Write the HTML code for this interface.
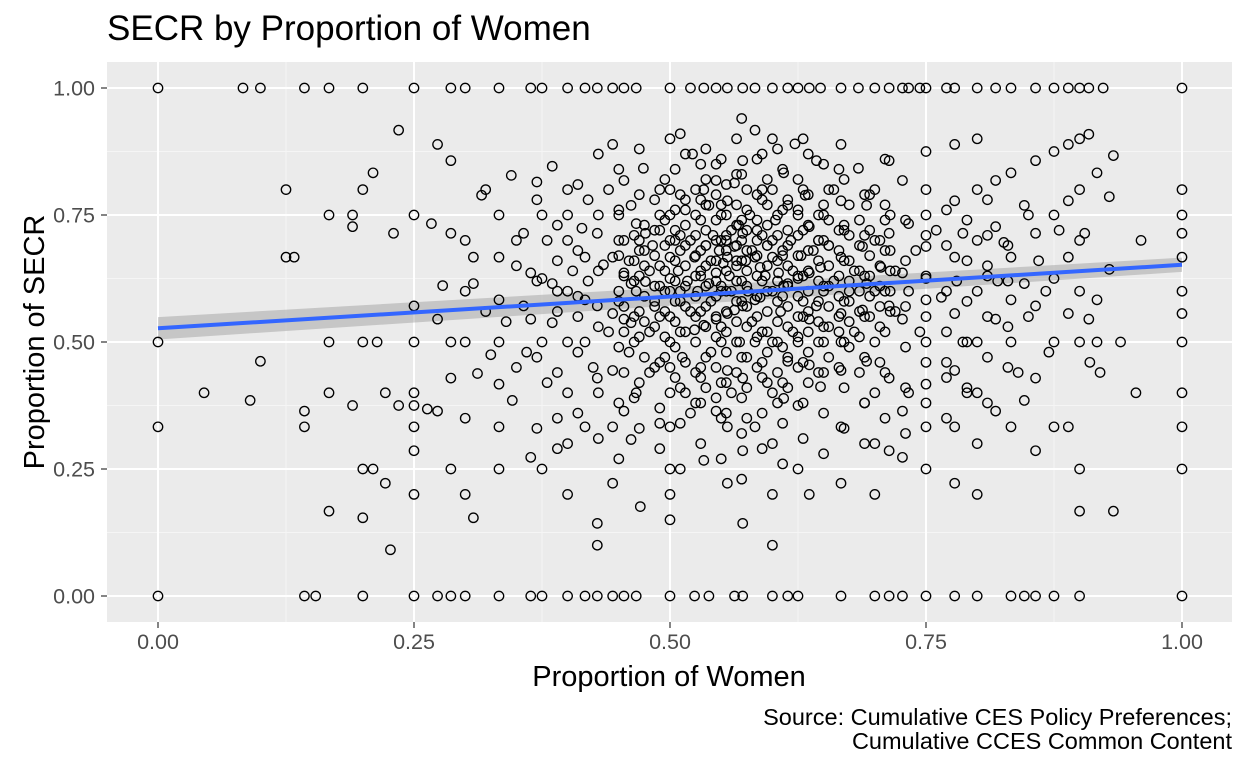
<!DOCTYPE html>
<html><head><meta charset="utf-8">
<style>
html,body{margin:0;padding:0;background:#fff;}
svg{display:block;font-family:"Liberation Sans",Arial,sans-serif;}
</style></head>
<body>
<svg id="chart" width="1248" height="768" xmlns="http://www.w3.org/2000/svg">
<text x="107" y="40" font-size="35" fill="#000">SECR by Proportion of Women</text>
<rect x="107" y="62" width="1125" height="560" fill="#ebebeb"/>
<g id="grid"></g>
<g id="ribbon"></g>
<g id="pts"></g>
<g id="fit"></g>
<g id="axes"></g>
<text x="669" y="686" font-size="29" text-anchor="middle" fill="#000">Proportion of Women</text>
<text transform="translate(44,342) rotate(-90)" font-size="29" text-anchor="middle" fill="#000">Proportion of SECR</text>
<text x="1232" y="725" font-size="23.5" text-anchor="end" fill="#000">Source: Cumulative CES Policy Preferences;</text>
<text x="1232" y="749" font-size="23.5" text-anchor="end" fill="#000">Cumulative CCES Common Content</text>
</svg>
<script>
const xTicks = [0, 0.25, 0.5, 0.75, 1];
const xTickLabels = ["0.00","0.25","0.50","0.75","1.00"];
const yTicks = [0, 0.25, 0.5, 0.75, 1];
const yTickLabels = ["0.00","0.25","0.50","0.75","1.00"];
const fitX = [0, 1];
const fitY = [0.527, 0.652];
const fitLo = [0.505, 0.638];
const fitHi = [0.549, 0.666];
const topRowX = [0,0.083,0.1,0.143,0.167,0.2,0.25,0.286,0.3,0.333,0.364,0.375,0.4,0.417,0.429,0.444,0.455,0.467,0.5,0.52,0.533,0.545,0.556,0.571,0.583,0.6,0.615,0.625,0.636,0.647,0.667,0.684,0.7,0.714,0.727,0.733,0.744,0.75,0.77,0.778,0.8,0.818,0.833,0.857,0.875,0.889,0.9,0.909,0.923,1];
const bottomRowX = [0,0.143,0.154,0.2,0.25,0.273,0.286,0.3,0.333,0.364,0.375,0.4,0.417,0.429,0.444,0.455,0.467,0.5,0.524,0.538,0.563,0.571,0.6,0.615,0.625,0.667,0.7,0.714,0.727,0.75,0.778,0.8,0.833,0.846,0.857,0.875,0.9,1];
const leftColY = [0.5,0.333];
const rightColY = [0.8,0.75,0.714,0.667,0.6,0.556,0.5,0.4,0.333,0.25];
const interiorPts = "0.045,0.4;0.09,0.385;0.1,0.462;0.125,0.8;0.125,0.667;0.133,0.667;0.143,0.364;0.143,0.333;0.167,0.75;0.167,0.5;0.167,0.4;0.167,0.167;0.19,0.375;0.19,0.75;0.19,0.727;0.2,0.8;0.2,0.5;0.2,0.25;0.2,0.154;0.21,0.833;0.21,0.25;0.214,0.5;0.222,0.4;0.222,0.222;0.227,0.091;0.23,0.714;0.235,0.917;0.235,0.375;0.25,0.571;0.25,0.5;0.25,0.4;0.25,0.375;0.25,0.333;0.25,0.286;0.25,0.2;0.25,0.75;0.263,0.368;0.267,0.733;0.273,0.889;0.273,0.364;0.273,0.545;0.278,0.611;0.286,0.857;0.286,0.5;0.286,0.429;0.286,0.25;0.286,0.714;0.3,0.5;0.3,0.7;0.3,0.6;0.3,0.2;0.3,0.35;0.308,0.615;0.308,0.154;0.308,0.667;0.312,0.438;0.316,0.789;0.32,0.8;0.32,0.56;0.325,0.475;0.333,0.667;0.333,0.583;0.333,0.5;0.333,0.417;0.333,0.333;0.333,0.25;0.333,0.75;0.34,0.54;0.345,0.828;0.346,0.385;0.35,0.7;0.35,0.65;0.35,0.45;0.357,0.714;0.357,0.571;0.36,0.48;0.364,0.636;0.364,0.545;0.364,0.273;0.37,0.815;0.375,0.75;0.375,0.625;0.375,0.5;0.375,0.25;0.38,0.7;0.38,0.42;0.385,0.846;0.385,0.615;0.385,0.538;0.39,0.6;0.39,0.35;0.4,0.8;0.4,0.7;0.4,0.6;0.4,0.5;0.4,0.4;0.4,0.3;0.4,0.2;0.4,0.75;0.405,0.64;0.41,0.55;0.414,0.724;0.417,0.667;0.417,0.583;0.417,0.5;0.417,0.333;0.42,0.62;0.42,0.78;0.425,0.45;0.429,0.714;0.429,0.571;0.429,0.429;0.429,0.143;0.429,0.1;0.435,0.652;0.44,0.8;0.44,0.52;0.444,0.889;0.444,0.667;0.444,0.556;0.444,0.444;0.444,0.333;0.444,0.222;0.45,0.75;0.45,0.6;0.45,0.7;0.455,0.818;0.455,0.636;0.455,0.545;0.455,0.364;0.46,0.66;0.46,0.48;0.462,0.769;0.462,0.615;0.462,0.538;0.462,0.308;0.467,0.733;0.467,0.6;0.467,0.4;0.47,0.68;0.47,0.56;0.471,0.176;0.474,0.842;0.476,0.714;0.476,0.619;0.48,0.52;0.48,0.64;0.48,0.44;0.483,0.69;0.485,0.58;0.49,0.75;0.49,0.61;0.49,0.34;0.5,0.9;0.5,0.8;0.5,0.75;0.5,0.7;0.5,0.667;0.5,0.625;0.5,0.6;0.5,0.55;0.5,0.5;0.5,0.45;0.5,0.4;0.5,0.333;0.5,0.25;0.5,0.2;0.5,0.15;0.505,0.72;0.508,0.64;0.51,0.58;0.51,0.68;0.512,0.47;0.515,0.76;0.517,0.62;0.52,0.56;0.52,0.7;0.52,0.36;0.522,0.87;0.524,0.667;0.524,0.524;0.527,0.6;0.53,0.74;0.53,0.64;0.53,0.43;0.533,0.8;0.533,0.533;0.533,0.267;0.535,0.69;0.538,0.615;0.538,0.769;0.54,0.58;0.54,0.66;0.54,0.48;0.542,0.71;0.545,0.636;0.545,0.545;0.545,0.818;0.545,0.364;0.548,0.68;0.55,0.6;0.55,0.75;0.55,0.5;0.552,0.655;0.555,0.7;0.556,0.778;0.556,0.667;0.556,0.556;0.556,0.444;0.556,0.333;0.556,0.222;0.558,0.63;0.56,0.72;0.56,0.6;0.56,0.4;0.563,0.813;0.563,0.688;0.563,0.563;0.565,0.65;0.567,0.73;0.568,0.5;0.57,0.62;0.57,0.7;0.571,0.857;0.571,0.714;0.571,0.571;0.571,0.429;0.571,0.286;0.571,0.143;0.574,0.66;0.576,0.6;0.578,0.75;0.58,0.54;0.58,0.68;0.583,0.917;0.583,0.667;0.583,0.583;0.583,0.5;0.583,0.333;0.585,0.72;0.588,0.647;0.588,0.588;0.59,0.46;0.59,0.78;0.593,0.63;0.595,0.69;0.6,0.9;0.6,0.8;0.6,0.7;0.6,0.667;0.6,0.6;0.6,0.5;0.6,0.4;0.6,0.3;0.6,0.2;0.6,0.1;0.603,0.74;0.606,0.636;0.608,0.56;0.61,0.68;0.611,0.833;0.611,0.611;0.611,0.389;0.615,0.769;0.615,0.615;0.615,0.462;0.618,0.7;0.62,0.64;0.62,0.52;0.622,0.89;0.625,0.75;0.625,0.625;0.625,0.5;0.625,0.375;0.625,0.25;0.628,0.67;0.63,0.58;0.632,0.789;0.636,0.727;0.636,0.636;0.636,0.545;0.636,0.455;0.636,0.2;0.64,0.68;0.643,0.857;0.643,0.571;0.645,0.7;0.647,0.647;0.647,0.412;0.65,0.75;0.65,0.6;0.65,0.5;0.655,0.69;0.66,0.62;0.66,0.8;0.667,0.889;0.667,0.778;0.667,0.667;0.667,0.556;0.667,0.5;0.667,0.444;0.667,0.333;0.667,0.222;0.67,0.72;0.675,0.6;0.68,0.64;0.68,0.52;0.684,0.842;0.688,0.688;0.688,0.563;0.69,0.38;0.692,0.769;0.692,0.615;0.692,0.462;0.7,0.8;0.7,0.7;0.7,0.6;0.7,0.5;0.7,0.4;0.7,0.3;0.7,0.2;0.706,0.647;0.71,0.74;0.714,0.857;0.714,0.714;0.714,0.571;0.714,0.429;0.714,0.286;0.72,0.64;0.72,0.56;0.727,0.818;0.727,0.636;0.727,0.545;0.727,0.364;0.727,0.273;0.733,0.733;0.733,0.6;0.733,0.4;0.74,0.68;0.744,0.52;0.75,0.875;0.75,0.75;0.75,0.688;0.75,0.625;0.75,0.583;0.75,0.5;0.75,0.417;0.75,0.333;0.75,0.25;0.76,0.72;0.765,0.588;0.77,0.46;0.778,0.889;0.778,0.778;0.778,0.667;0.778,0.556;0.778,0.444;0.778,0.333;0.778,0.222;0.78,0.62;0.786,0.714;0.786,0.5;0.79,0.4;0.8,0.9;0.8,0.8;0.8,0.7;0.8,0.6;0.8,0.5;0.8,0.4;0.8,0.3;0.8,0.2;0.81,0.65;0.818,0.818;0.818,0.727;0.818,0.545;0.818,0.364;0.82,0.62;0.826,0.696;0.833,0.833;0.833,0.667;0.833,0.583;0.833,0.5;0.833,0.333;0.84,0.44;0.846,0.769;0.846,0.615;0.846,0.385;0.85,0.75;0.85,0.55;0.857,0.857;0.857,0.714;0.857,0.571;0.857,0.429;0.857,0.286;0.86,0.66;0.867,0.6;0.87,0.48;0.875,0.875;0.875,0.75;0.875,0.625;0.875,0.5;0.875,0.333;0.88,0.72;0.889,0.889;0.889,0.778;0.889,0.667;0.889,0.556;0.889,0.333;0.9,0.9;0.9,0.8;0.9,0.7;0.9,0.6;0.9,0.5;0.9,0.25;0.9,0.167;0.905,0.714;0.909,0.909;0.909,0.545;0.91,0.46;0.917,0.583;0.917,0.5;0.917,0.833;0.92,0.44;0.929,0.786;0.929,0.643;0.933,0.867;0.933,0.167;0.94,0.5;0.955,0.4;0.96,0.7";
// dense core: x value per column, then hand-read SECR values in that column
const coreColX = [0.455,0.465,0.475,0.485,0.495,0.505,0.515,0.525,0.535,0.545,0.555,0.565,0.575,0.585,0.595,0.605,0.615,0.625,0.635,0.645,0.655,0.665,0.675,0.685,0.695,0.705,0.715];
const coreColY = [
 "0.57,0.63,0.70,0.52,0.44",
 "0.55,0.62,0.71,0.66,0.50,0.39",
 "0.59,0.65,0.73,0.54,0.47,0.68",
 "0.53,0.61,0.67,0.72,0.78,0.45,0.57",
 "0.56,0.60,0.64,0.69,0.74,0.51,0.47,0.82",
 "0.54,0.58,0.62,0.66,0.70,0.76,0.49,0.43,0.84",
 "0.52,0.57,0.61,0.65,0.69,0.73,0.78,0.46,0.40,0.87",
 "0.55,0.59,0.63,0.67,0.71,0.75,0.80,0.50,0.44,0.38",
 "0.53,0.57,0.61,0.65,0.69,0.72,0.77,0.82,0.47,0.41,0.88",
 "0.55,0.59,0.62,0.66,0.70,0.74,0.79,0.51,0.45,0.39,0.85",
 "0.52,0.56,0.60,0.64,0.68,0.71,0.75,0.81,0.48,0.42,0.36",
 "0.54,0.58,0.62,0.66,0.69,0.73,0.77,0.83,0.50,0.44,0.90",
 "0.53,0.57,0.61,0.64,0.68,0.72,0.76,0.80,0.47,0.41,0.35",
 "0.55,0.59,0.63,0.67,0.70,0.74,0.79,0.51,0.45,0.86",
 "0.52,0.56,0.60,0.65,0.69,0.73,0.77,0.82,0.48,0.42",
 "0.54,0.58,0.62,0.66,0.71,0.75,0.50,0.44,0.38,0.88",
 "0.53,0.57,0.61,0.65,0.69,0.72,0.78,0.47,0.41",
 "0.55,0.59,0.63,0.67,0.71,0.76,0.82,0.51,0.45",
 "0.52,0.56,0.60,0.64,0.68,0.73,0.79,0.48,0.42,0.87",
 "0.54,0.58,0.62,0.66,0.70,0.75,0.50,0.44",
 "0.53,0.57,0.61,0.65,0.69,0.74,0.80,0.47",
 "0.55,0.59,0.63,0.68,0.72,0.52,0.45,0.84",
 "0.54,0.58,0.62,0.66,0.71,0.77,0.49",
 "0.56,0.60,0.64,0.69,0.74,0.51,0.44",
 "0.55,0.59,0.63,0.67,0.72,0.79",
 "0.57,0.61,0.65,0.70,0.53,0.46",
 "0.56,0.60,0.64,0.68,0.75"
];
// mid ring: wider spread around the core
const ringColX = [0.37,0.39,0.41,0.43,0.45,0.47,0.49,0.51,0.53,0.55,0.57,0.59,0.61,0.63,0.65,0.67,0.69,0.71,0.73,0.75,0.77,0.79,0.81,0.83];
const ringColY = [
 "0.33,0.47,0.62,0.78",
 "0.29,0.44,0.56,0.66,0.73",
 "0.36,0.48,0.59,0.68,0.81",
 "0.31,0.40,0.53,0.64,0.75,0.87",
 "0.27,0.38,0.49,0.58,0.67,0.76,0.84",
 "0.33,0.42,0.51,0.63,0.70,0.79,0.88",
 "0.29,0.37,0.46,0.55,0.65,0.72,0.80",
 "0.25,0.34,0.41,0.52,0.60,0.71,0.79,0.91",
 "0.30,0.38,0.45,0.56,0.63,0.68,0.78,0.85",
 "0.27,0.35,0.42,0.53,0.61,0.70,0.77,0.86",
 "0.23,0.32,0.39,0.47,0.58,0.66,0.74,0.83,0.94",
 "0.29,0.36,0.43,0.52,0.62,0.71,0.80,0.87",
 "0.26,0.34,0.42,0.49,0.59,0.67,0.76,0.84",
 "0.31,0.38,0.46,0.55,0.63,0.72,0.80,0.90",
 "0.28,0.36,0.44,0.53,0.61,0.70,0.77,0.85",
 "0.33,0.41,0.50,0.58,0.66,0.73,0.82",
 "0.30,0.38,0.47,0.55,0.63,0.71,0.79",
 "0.35,0.44,0.52,0.60,0.68,0.77,0.86",
 "0.32,0.41,0.49,0.57,0.66,0.74",
 "0.38,0.46,0.55,0.63,0.71,0.80",
 "0.35,0.43,0.52,0.60,0.69,0.76",
 "0.41,0.50,0.58,0.66,0.74",
 "0.38,0.47,0.55,0.63,0.71,0.78",
 "0.45,0.53,0.62,0.69"
];
const pts = interiorPts.split(";").map(s => s.split(",").map(Number));
const xVals = [], yVals = [];
topRowX.forEach(x => { xVals.push(x); yVals.push(1); });
bottomRowX.forEach(x => { xVals.push(x); yVals.push(0); });
leftColY.forEach(y => { xVals.push(0); yVals.push(y); });
rightColY.forEach(y => { xVals.push(1); yVals.push(y); });
pts.forEach(p => { xVals.push(p[0]); yVals.push(p[1]); });
coreColX.forEach((x, i) => { coreColY[i].split(",").map(Number).forEach(y => { xVals.push(x); yVals.push(y); }); });
ringColX.forEach((x, i) => { ringColY[i].split(",").map(Number).forEach(y => { xVals.push(x); yVals.push(y); }); });

const NS = "http://www.w3.org/2000/svg";
const sx = v => 158 + v * 1024;
const sy = v => 596 - v * 508;
function mk(tag, attrs, parent) {
  const e = document.createElementNS(NS, tag);
  for (const k in attrs) e.setAttribute(k, attrs[k]);
  parent.appendChild(e);
  return e;
}
const grid = document.getElementById("grid");
[0.125, 0.375, 0.625, 0.875].forEach(v => {
  const l = mk("line", {x1: sx(v), x2: sx(v), y1: 62, y2: 622, stroke: "#f5f5f5", "stroke-width": 1}, grid);
  
  
});
[0.125, 0.375, 0.625, 0.875].forEach(v => {
  const l = mk("line", {x1: 107, x2: 1232, y1: sy(v), y2: sy(v), stroke: "#f5f5f5", "stroke-width": 1}, grid);
  
  
});
const axes = document.getElementById("axes");
xTicks.forEach((v, i) => {
  const l = mk("line", {x1: sx(v), x2: sx(v), y1: 62, y2: 622, stroke: "#fff", "stroke-width": 2}, grid);
  
  
  const t = mk("line", {x1: sx(v), x2: sx(v), y1: 622, y2: 628, stroke: "#333", "stroke-width": 1.2}, axes);
  
  
  const tx = mk("text", {x: sx(v), y: 649, "font-size": 21.5, "text-anchor": "middle", fill: "#4d4d4d"}, axes);
  tx.textContent = xTickLabels[i];
  
  
});
yTicks.forEach((v, i) => {
  const l = mk("line", {x1: 107, x2: 1232, y1: sy(v), y2: sy(v), stroke: "#fff", "stroke-width": 2}, grid);
  
  
  const t = mk("line", {x1: 101, x2: 107, y1: sy(v), y2: sy(v), stroke: "#333", "stroke-width": 1.2}, axes);
  
  
  const tx = mk("text", {x: 95, y: sy(v) + 7.5, "font-size": 21.5, "text-anchor": "end", fill: "#4d4d4d"}, axes);
  tx.textContent = yTickLabels[i];
  
  
});
const ptsG = document.getElementById("pts");
xVals.forEach((x, i) => {
  const c = mk("circle", {cx: sx(x), cy: sy(yVals[i]), r: 4.7, fill: "none", stroke: "#000", "stroke-width": 1.35}, ptsG);
  
  
});
const rib = mk("polygon", {points: `${sx(fitX[0])},${sy(fitHi[0])} ${sx(fitX[1])},${sy(fitHi[1])} ${sx(fitX[1])},${sy(fitLo[1])} ${sx(fitX[0])},${sy(fitLo[0])}`, fill: "#999", "fill-opacity": 0.45}, document.getElementById("ribbon"));


const fl = mk("line", {x1: sx(fitX[0]), y1: sy(fitY[0]), x2: sx(fitX[1]), y2: sy(fitY[1]), stroke: "#3366ff", "stroke-width": 4}, document.getElementById("fit"));


</script>
</body></html>
